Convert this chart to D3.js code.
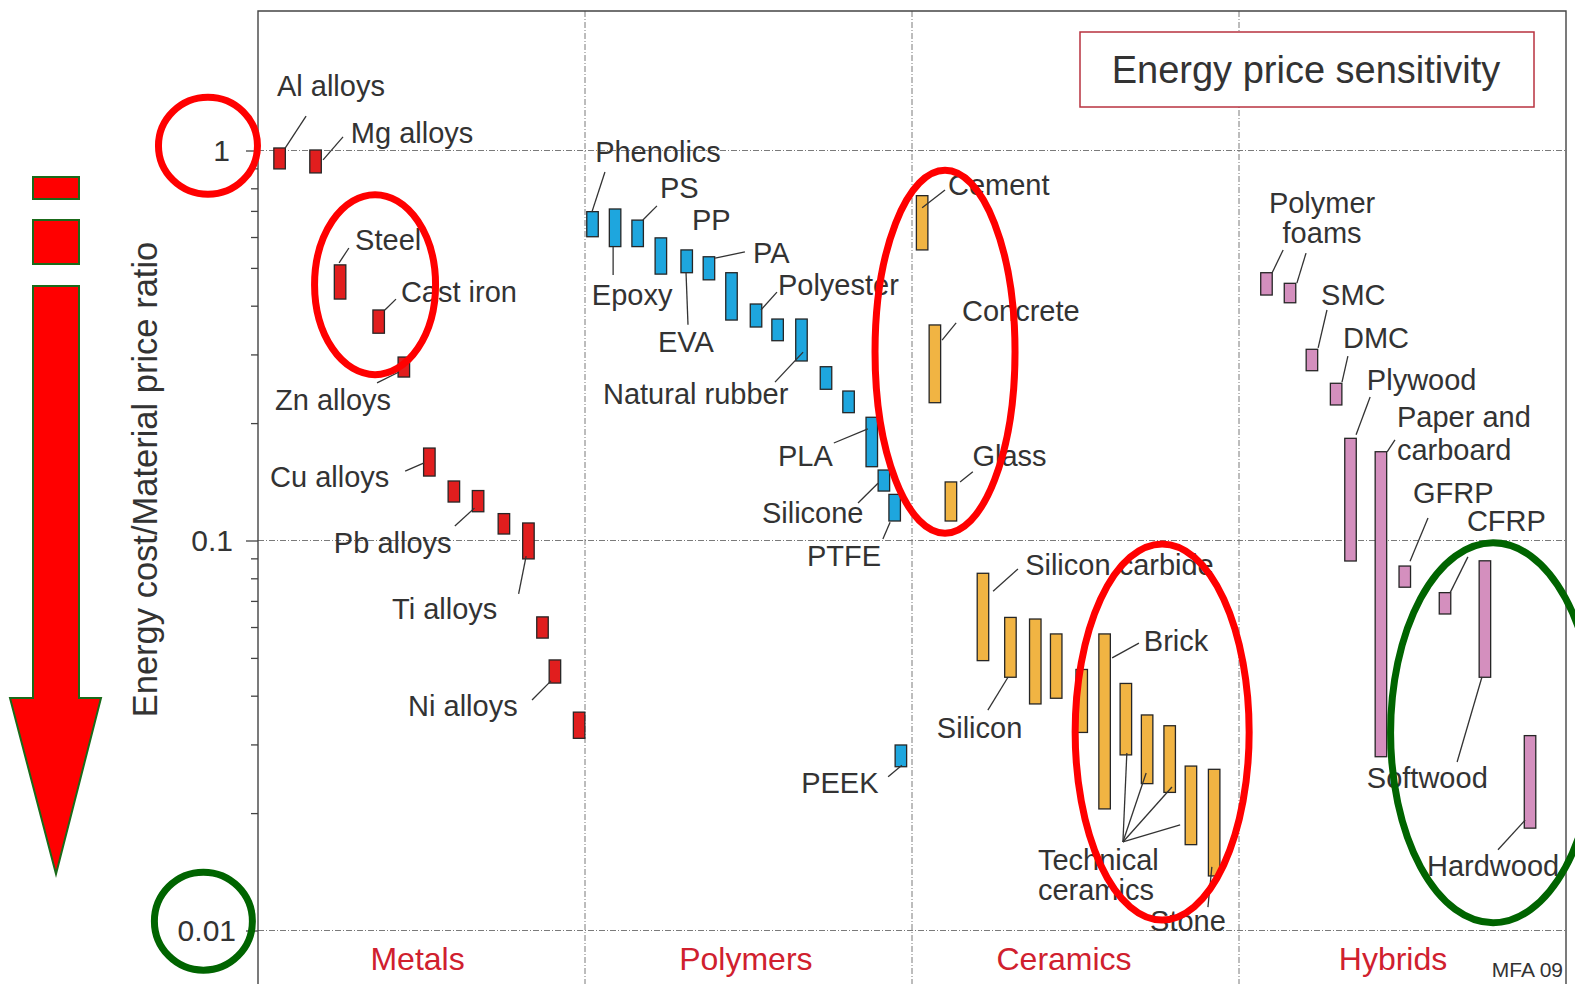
<!DOCTYPE html>
<html>
<head>
<meta charset="utf-8">
<script src="https://cdn.jsdelivr.net/npm/d3@7"></script>
<style>
  html, body { margin: 0; padding: 0; background: #fff; }
  svg { display: block; font-family: "Liberation Sans", Arial, Helvetica, sans-serif; }
</style>
</head>
<body>
<svg id="chart" width="1575" height="984"></svg>
<script>
// ---- Material classes -------------------------------------------------------
const classNames = ["Metals", "Polymers", "Ceramics", "Hybrids"];
const classFill = ["#e11e1e", "#1ea6de", "#f1b443", "#d48fbe"];

// Each material: slot = horizontal position in class units (0..4),
// low/high = range of the energy cost / material price ratio.
const metalNames = ["Al alloys", "Mg alloys", "Steel", "Cast iron", "Zn alloys", "Cu alloys", "Metal 7",
  "Pb alloys", "Metal 9", "Ti alloys", "Metal 11", "Ni alloys", "Metal 13"];
const metalSlot = [0.066, 0.176, 0.251, 0.369, 0.446, 0.524, 0.599, 0.673, 0.752, 0.827, 0.870, 0.908, 0.982];
const metalLow  = [0.897, 0.876, 0.416, 0.340, 0.2625, 0.1463, 0.1255, 0.1185, 0.1039, 0.0897, 0.0562, 0.0431, 0.0311];
const metalHigh = [1.015, 1.003, 0.509, 0.390, 0.2954, 0.1726, 0.1421, 0.1343, 0.1172, 0.1109, 0.0637, 0.0494, 0.0363];

const polymerNames = ["Phenolics", "Epoxy", "PS", "PP", "EVA", "PA", "Polymer 7", "Polyester", "Polymer 9",
  "Natural rubber", "Polymer 11", "Polymer 12", "PLA", "Silicone", "PTFE", "PEEK"];
const polymerSlot = [1.023, 1.092, 1.161, 1.232, 1.311, 1.379, 1.448, 1.523, 1.589, 1.662, 1.737, 1.806, 1.877, 1.914, 1.947, 1.966];
const polymerLow  = [0.601, 0.567, 0.567, 0.482, 0.486, 0.466, 0.3675, 0.3527, 0.3253, 0.2886, 0.2442, 0.2127, 0.1546, 0.1339, 0.1122, 0.0263];
const polymerHigh = [0.697, 0.708, 0.663, 0.597, 0.556, 0.534, 0.486, 0.404, 0.3697, 0.3697, 0.2790, 0.2417, 0.2070, 0.1516, 0.1313, 0.0299];

const ceramicNames = ["Cement", "Concrete", "Glass", "Silicon carbide", "Silicon", "Ceramic 6", "Ceramic 7",
  "Ceramic 8", "Brick", "Technical ceramic 1", "Technical ceramic 2", "Technical ceramic 3", "Technical ceramic 4", "Stone"];
const ceramicSlot = [2.031, 2.070, 2.119, 2.217, 2.301, 2.377, 2.441, 2.519, 2.589, 2.654, 2.719, 2.788, 2.853, 2.924];
const ceramicLow  = [0.556, 0.2256, 0.1122, 0.0492, 0.0446, 0.0381, 0.0394, 0.0322, 0.0205, 0.0282, 0.0238, 0.0226, 0.0166, 0.0138];
const ceramicHigh = [0.766, 0.357, 0.1413, 0.0824, 0.0635, 0.0629, 0.0576, 0.0467, 0.0576, 0.0430, 0.0357, 0.0335, 0.0264, 0.0259];

const hybridNames = ["Polymer foam 1", "Polymer foam 2", "SMC", "DMC", "Plywood", "Paper and carboard",
  "GFRP", "CFRP", "Softwood", "Hardwood"];
const hybridSlot = [3.084, 3.156, 3.223, 3.297, 3.341, 3.434, 3.507, 3.630, 3.752, 3.890];
const hybridLow  = [0.426, 0.407, 0.2725, 0.2226, 0.0886, 0.0279, 0.0759, 0.0648, 0.0446, 0.0183];
const hybridHigh = [0.486, 0.4565, 0.3092, 0.2530, 0.1828, 0.1689, 0.0860, 0.0735, 0.0887, 0.0316];

const majorTicks = [0.01, 0.1, 1];
const yTitle = "Energy cost/Material price ratio";
const chartTitle = "Energy price sensitivity";
const sourceNote = "MFA 09";

// ---- Annotation layout (slot units, log10 of ratio) -------------------------
const labelSpec = [
  ["Al alloys", 0.058, 0.140], ["Mg alloys", 0.284, 0.019], ["Steel", 0.297, -0.255],
  ["Cast iron", 0.437, -0.388], ["Zn alloys", 0.052, -0.665], ["Cu alloys", 0.037, -0.863],
  ["Pb alloys", 0.232, -1.032], ["Ti alloys", 0.410, -1.201], ["Ni alloys", 0.459, -1.450],
  ["Phenolics", 1.031, -0.029], ["PS", 1.229, -0.122], ["PP", 1.327, -0.204], ["PA", 1.514, -0.288],
  ["Epoxy", 1.021, -0.396], ["EVA", 1.223, -0.517], ["Polyester", 1.590, -0.371],
  ["Natural rubber", 1.055, -0.650], ["PLA", 1.590, -0.809], ["Silicone", 1.541, -0.955],
  ["PTFE", 1.679, -1.065], ["PEEK", 1.661, -1.647],
  ["Cement", 2.110, -0.114], ["Concrete", 2.153, -0.437], ["Glass", 2.185, -0.809],
  ["Silicon carbide", 2.346, -1.088], ["Silicon", 2.076, -1.506], ["Brick", 2.709, -1.283],
  ["Technical", 2.385, -1.845], ["ceramics", 2.385, -1.922], ["Stone", 2.728, -2.001],
  ["SMC", 3.251, -0.396], ["DMC", 3.318, -0.506], ["Plywood", 3.391, -0.614],
  ["Paper and", 3.483, -0.709], ["carboard", 3.483, -0.794], ["GFRP", 3.532, -0.904],
  ["CFRP", 3.697, -0.976], ["Softwood", 3.391, -1.635], ["Hardwood", 3.575, -1.860]
];
const centredLabelSpec = [["Polymer", 3.254, -0.160], ["foams", 3.254, -0.237]];

const leaderSpec = [
  [0.083, 0.006, 0.147, 0.088], [0.199, -0.024, 0.260, 0.035], [0.248, -0.288, 0.278, -0.250],
  [0.388, -0.409, 0.422, -0.381], [0.431, -0.568, 0.364, -0.596], [0.508, -0.801, 0.450, -0.822],
  [0.662, -0.917, 0.602, -0.963], [0.820, -1.040, 0.797, -1.137], [0.896, -1.360, 0.838, -1.409],
  [1.021, -0.158, 1.061, -0.055], [1.177, -0.178, 1.220, -0.142], [1.398, -0.276, 1.489, -0.260],
  [1.086, -0.247, 1.086, -0.319], [1.309, -0.314, 1.315, -0.447], [1.538, -0.409, 1.587, -0.363],
  [1.667, -0.517, 1.581, -0.594], [1.865, -0.714, 1.761, -0.750], [1.896, -0.853, 1.835, -0.904],
  [1.933, -0.953, 1.911, -0.996], [1.969, -1.576, 1.927, -1.606],
  [2.031, -0.147, 2.101, -0.101], [2.092, -0.486, 2.135, -0.442], [2.147, -0.850, 2.186, -0.824],
  [2.248, -1.130, 2.324, -1.073], [2.294, -1.350, 2.232, -1.435], [2.612, -1.301, 2.694, -1.263],
  [2.645, -1.773, 2.657, -1.545], [2.645, -1.773, 2.716, -1.596], [2.645, -1.773, 2.795, -1.632],
  [2.645, -1.773, 2.820, -1.729], [2.917, -1.837, 2.905, -1.940],
  [3.101, -0.314, 3.135, -0.255], [3.177, -0.340, 3.205, -0.263], [3.242, -0.506, 3.269, -0.409],
  [3.315, -0.594, 3.333, -0.527], [3.358, -0.729, 3.401, -0.632], [3.453, -0.773, 3.477, -0.742],
  [3.523, -1.053, 3.578, -0.942], [3.645, -1.135, 3.700, -1.042], [3.743, -1.350, 3.667, -1.568],
  [3.875, -1.717, 3.792, -1.793]
];

const classLabelSlot = [0.488, 1.492, 2.465, 3.471];

// Highlight ellipses: centre (slot, log10), radii in px, colour
const highlightSpec = [
  [-0.153, 0.012, 49.5, 48.5, "#ff0000"],
  [0.358, -0.344, 60.5, 90, "#ff0000"],
  [2.101, -0.516, 70, 181.5, "#ff0000"],
  [2.765, -1.491, 87, 188, "#ff0000"],
  [-0.167, -1.976, 49, 49, "#006400"],
  [3.777, -1.493, 102.5, 190, "#006400"]
];

// ---- Scales ------------------------------------------------------------------
const frame = { left: 258, right: 1566, top: 11, bottom: 1000 };
const x = d3.scaleLinear().domain([0, 4]).range([frame.left, frame.right]);
const y = d3.scaleLog().domain([0.01, 1]).range([930.5, 150.5]);
const pt = (u, lg) => [x(u), y(Math.pow(10, lg))];

const svg = d3.select("#chart");
const ink = "#333";
const labelFont = 29;

// ---- Grid --------------------------------------------------------------------
const grid = svg.append("g").attr("stroke", "#7a7a7a").attr("stroke-width", 1)
  .attr("stroke-dasharray", "6 2 1 2").attr("fill", "none");
grid.selectAll("line.h").data(majorTicks).join("line").attr("class", "h")
  .attr("x1", frame.left).attr("x2", frame.right)
  .attr("y1", d => y(d)).attr("y2", d => y(d));
grid.selectAll("line.v").data([1, 2, 3]).join("line").attr("class", "v")
  .attr("x1", d => x(d)).attr("x2", d => x(d))
  .attr("y1", frame.top).attr("y2", frame.bottom);

// ---- Frame -------------------------------------------------------------------
svg.append("path")
  .attr("d", `M${frame.left},${frame.bottom}V${frame.top}H${frame.right}V${frame.bottom}`)
  .attr("fill", "none").attr("stroke", "#444").attr("stroke-width", 1.4);

// ---- Y axis (minor + major ticks) -------------------------------------------
const minorTicks = y.ticks().filter(t => !majorTicks.some(m => Math.abs(m - t) < 1e-9));
const minorAxis = svg.append("g").attr("transform", `translate(${frame.left},0)`)
  .call(d3.axisLeft(y).tickValues(minorTicks).tickSize(7).tickFormat(""));
const majorAxis = svg.append("g").attr("transform", `translate(${frame.left},0)`)
  .call(d3.axisLeft(y).tickValues(majorTicks).tickSize(12).tickPadding(13).tickFormat(d3.format("~g")));
[minorAxis, majorAxis].forEach(g => {
  g.select(".domain").remove();
  g.selectAll(".tick line").attr("stroke", "#444").attr("stroke-width", 1.3);
});
majorAxis.selectAll(".tick text").attr("font-size", 30).attr("fill", ink)
  .attr("font-family", "Liberation Sans, Arial, sans-serif")
  .attr("dx", d => d === 1 ? -3 : d === 0.01 ? 3 : 0);

svg.append("text")
  .attr("transform", `translate(157,${(150.5 + 930.5) / 2 - 61}) rotate(-90)`)
  .attr("text-anchor", "middle").attr("font-size", 34.5).attr("fill", ink)
  .text(yTitle);

// ---- Bars --------------------------------------------------------------------
const groups = [
  [metalNames, metalSlot, metalLow, metalHigh],
  [polymerNames, polymerSlot, polymerLow, polymerHigh],
  [ceramicNames, ceramicSlot, ceramicLow, ceramicHigh],
  [hybridNames, hybridSlot, hybridLow, hybridHigh]
];
const materials = groups.flatMap(([names, slot, low, high], ci) =>
  names.map((n, i) => ({ name: n, cls: ci, slot: slot[i], low: low[i], high: high[i] })));

const barW = 11.5;
svg.append("g").selectAll("rect").data(materials).join("rect")
  .attr("x", d => x(d.slot) - barW / 2)
  .attr("y", d => y(d.high))
  .attr("width", barW)
  .attr("height", d => y(d.low) - y(d.high))
  .attr("fill", d => classFill[d.cls])
  .attr("stroke", "#262626").attr("stroke-width", 1.3);

// ---- Leader lines and labels ------------------------------------------------
svg.append("g").attr("stroke", "#333").attr("stroke-width", 1.3)
  .selectAll("line").data(leaderSpec).join("line")
  .attr("x1", d => pt(d[0], d[1])[0]).attr("y1", d => pt(d[0], d[1])[1])
  .attr("x2", d => pt(d[2], d[3])[0]).attr("y2", d => pt(d[2], d[3])[1]);

const labels = svg.append("g").attr("font-size", labelFont).attr("fill", ink);
labels.selectAll("text.l").data(labelSpec).join("text").attr("class", "l")
  .attr("x", d => pt(d[1], d[2])[0]).attr("y", d => pt(d[1], d[2])[1])
  .text(d => d[0]);
labels.selectAll("text.c").data(centredLabelSpec).join("text").attr("class", "c")
  .attr("text-anchor", "middle")
  .attr("x", d => pt(d[1], d[2])[0]).attr("y", d => pt(d[1], d[2])[1])
  .text(d => d[0]);

// ---- Class names -------------------------------------------------------------
svg.append("g").selectAll("text").data(classNames).join("text")
  .attr("x", (d, i) => x(classLabelSlot[i])).attr("y", 970)
  .attr("text-anchor", "middle").attr("font-size", 32).attr("fill", "#d0202e")
  .text(d => d);

svg.append("text").attr("x", 1563).attr("y", 977).attr("text-anchor", "end")
  .attr("font-size", 21).attr("fill", ink).text(sourceNote);

// ---- Title box ---------------------------------------------------------------
svg.append("rect").attr("x", 1080).attr("y", 32).attr("width", 454).attr("height", 75)
  .attr("fill", "#fff").attr("stroke", "#b8323f").attr("stroke-width", 1.5);
svg.append("text").attr("x", 1306).attr("y", 83).attr("text-anchor", "middle")
  .attr("font-size", 38).attr("fill", ink).text(chartTitle);

// ---- Highlight ellipses ------------------------------------------------------
svg.append("g").attr("fill", "none").attr("stroke-width", 7)
  .selectAll("ellipse").data(highlightSpec).join("ellipse")
  .attr("cx", d => pt(d[0], d[1])[0]).attr("cy", d => pt(d[0], d[1])[1])
  .attr("rx", d => d[2]).attr("ry", d => d[3])
  .attr("stroke", d => d[4]);

// ---- Downward arrow (lower is less sensitive) -------------------------------
const arrow = svg.append("g").attr("fill", "#ff0000").attr("stroke", "#1a6a1a").attr("stroke-width", 2);
arrow.append("rect").attr("x", 33).attr("y", 177).attr("width", 46).attr("height", 22);
arrow.append("rect").attr("x", 33).attr("y", 220).attr("width", 46).attr("height", 44);
arrow.append("path").attr("d", "M33,286H79V698H101L56,874L10,698H33Z");
</script>
</body>
</html>
